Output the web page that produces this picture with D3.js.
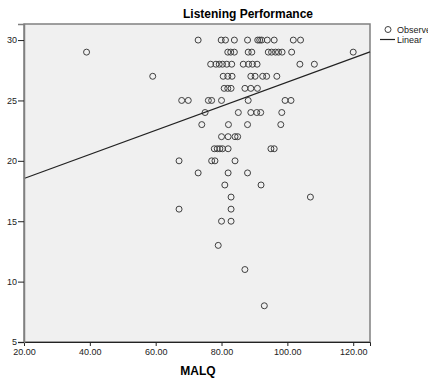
<!DOCTYPE html>
<html>
<head>
<meta charset="utf-8">
<script src="https://cdn.jsdelivr.net/npm/d3@7"></script>
<style>
  body { margin: 0; background: #fff; }
  svg { display: block; font-family: "Liberation Sans", Arial, sans-serif; }
</style>
</head>
<body>
<svg id="chart" width="428" height="379"></svg>
<script>
// MALQ score and listening performance, one entry per student (grouped by score row)
const malq = [
  72.9, 79.9, 81.2, 83.9, 87.9, 91.0, 91.6, 92.2, 93.9, 96.0, 101.8, 104.0,
  39.0, 81.9, 82.8, 83.9, 88.1, 89.2, 94.2, 95.2, 96.4, 97.3, 98.4, 101.3, 120.0,
  76.7, 78.3, 79.3, 80.3, 81.6, 83.1, 86.6, 88.2, 89.4, 90.8, 103.8, 108.2,
  59.1, 80.5, 81.9, 83.2, 88.9, 90.2, 92.5, 93.7, 96.8,
  80.8, 81.9, 82.9, 87.1, 88.9, 90.9,
  67.9, 69.9, 76.0, 77.0, 80.0, 88.1, 99.3, 101.1,
  75.0, 85.1, 88.9, 90.7, 91.9, 98.3,
  74.0, 82.1, 87.9, 98.0,
  80.0, 82.0, 84.1, 84.9,
  77.8, 78.7, 79.5, 80.3, 82.0, 95.0, 96.0,
  67.1, 77.0, 78.0, 84.1,
  72.9, 82.0, 87.9,
  81.0, 92.0,
  82.9, 107.0,
  67.1, 82.9,
  80.0, 82.9,
  79.0,
  87.1,
  93.0
];
const listening = [
  30, 30, 30, 30, 30, 30, 30, 30, 30, 30, 30, 30,
  29, 29, 29, 29, 29, 29, 29, 29, 29, 29, 29, 29, 29,
  28, 28, 28, 28, 28, 28, 28, 28, 28, 28, 28, 28,
  27, 27, 27, 27, 27, 27, 27, 27, 27,
  26, 26, 26, 26, 26, 26,
  25, 25, 25, 25, 25, 25, 25, 25,
  24, 24, 24, 24, 24, 24,
  23, 23, 23, 23,
  22, 22, 22, 22,
  21, 21, 21, 21, 21, 21, 21,
  20, 20, 20, 20,
  19, 19, 19,
  18, 18,
  17, 17,
  16, 16,
  15, 15,
  13,
  11,
  8
];
const xTicks = [20, 40, 60, 80, 100, 120];
const yTicks = [5, 10, 15, 20, 25, 30];

// linear fit as shown in the original output
const fitIntercept = 16.54;
const fitSlope = 0.0998;

const svg = d3.select("#chart");
const margin = { top: 24, left: 24 };
const width = 346, height = 318;

const x = d3.scaleLinear().domain([20, 125.1]).range([0, width]);
const y = d3.scaleLinear().domain([5, 31.33]).range([height, 0]);

const g = svg.append("g")
  .attr("transform", "translate(" + margin.left + "," + margin.top + ")");

g.append("rect")
  .attr("x", 0).attr("y", 0)
  .attr("width", width).attr("height", height)
  .attr("fill", "#f0f0f0")
  .attr("stroke", "#808080")
  .attr("stroke-width", 1.5);

// points
const pts = malq.map(function (d, i) { return { m: d, s: listening[i] }; });
g.selectAll(".pt")
  .data(pts)
  .enter().append("circle")
  .attr("class", "pt")
  .attr("cx", function (d) { return x(d.m); })
  .attr("cy", function (d) { return y(d.s); })
  .attr("r", 3)
  .attr("fill", "none")
  .attr("stroke", "#404040")
  .attr("stroke-width", 1);

// fit line
const xd = x.domain();
g.append("line")
  .attr("x1", x(xd[0])).attr("y1", y(fitIntercept + fitSlope * xd[0]))
  .attr("x2", x(xd[1])).attr("y2", y(fitIntercept + fitSlope * xd[1]))
  .attr("stroke", "#222")
  .attr("stroke-width", 1.2);

// axes
const xAxis = g.append("g")
  .attr("transform", "translate(0," + height + ")")
  .call(d3.axisBottom(x).tickValues(xTicks).tickFormat(d3.format(".2f")).tickSize(4).tickPadding(3));
xAxis.select(".domain").attr("stroke", "#222");

const yAxis = g.append("g")
  .call(d3.axisLeft(y).tickValues(yTicks).tickSize(6).tickPadding(1));
yAxis.select(".domain").attr("stroke", "#808080").attr("stroke-width", 1.5);

svg.selectAll(".tick text").attr("font-size", 9).attr("fill", "#222")
  .attr("font-family", "'Liberation Sans', Arial, sans-serif");
svg.selectAll(".tick line").attr("stroke", "#222");

// titles
svg.append("text")
  .attr("x", 248).attr("y", 18)
  .attr("text-anchor", "middle")
  .attr("font-size", 12).attr("font-weight", "bold")
  .text("Listening Performance");

svg.append("text")
  .attr("x", 198).attr("y", 375)
  .attr("text-anchor", "middle")
  .attr("font-size", 12).attr("font-weight", "bold")
  .text("MALQ");

// legend
const lg = svg.append("g").attr("font-size", 9).attr("fill", "#222");
lg.append("circle")
  .attr("cx", 388).attr("cy", 29.5).attr("r", 3)
  .attr("fill", "none").attr("stroke", "#404040");
lg.append("text").attr("x", 397).attr("y", 32.5).text("Observed");
lg.append("line")
  .attr("x1", 380).attr("x2", 395).attr("y1", 39.5).attr("y2", 39.5)
  .attr("stroke", "#222").attr("stroke-width", 1.2);
lg.append("text").attr("x", 397).attr("y", 42.5).text("Linear");
</script>
</body>
</html>
